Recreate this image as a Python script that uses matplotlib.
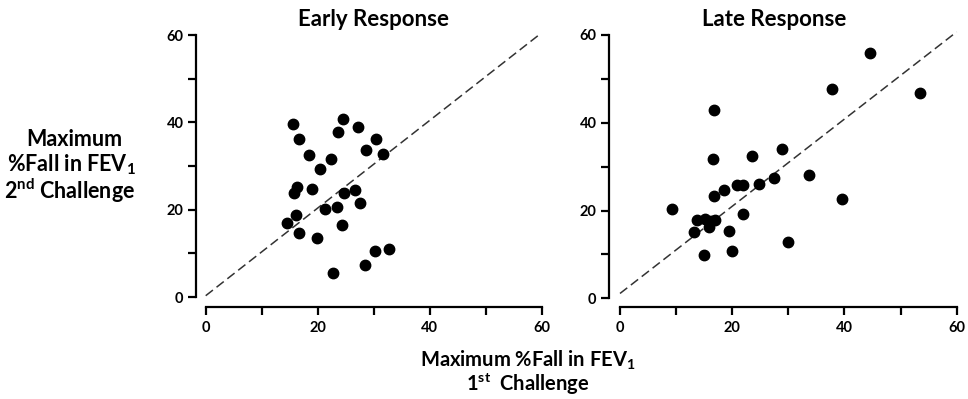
import matplotlib
matplotlib.use("Agg")
import matplotlib.pyplot as plt

# Early response: 1st challenge vs 2nd challenge (% fall in FEV1)
early_x = [15.6, 16.7, 18.5, 20.4, 22.3, 23.6, 24.5, 27.2, 30.5, 28.6, 31.6, 15.7, 16.3, 18.9,
           24.7, 26.6, 27.5, 23.5, 21.3, 16.1, 14.6, 16.7, 19.9, 24.3, 30.2, 32.7, 28.5, 22.8]
early_y = [39.7, 36.3, 32.6, 29.4, 31.6, 37.7, 40.8, 39.0, 36.1, 33.7, 32.7, 23.9, 25.1, 24.7,
           23.8, 24.4, 21.6, 20.7, 20.2, 18.8, 16.9, 14.6, 13.5, 16.5, 10.6, 11.0, 7.4, 5.5]

# Late response
late_x = [9.2, 13.7, 13.2, 15.2, 15.9, 16.3, 16.9, 14.9, 16.8, 16.5, 16.8, 18.6, 19.5, 20.0,
          20.9, 22.0, 21.9, 23.5, 24.7, 27.5, 28.9, 29.9, 33.6, 37.8, 39.6, 44.6, 53.5]
late_y = [20.4, 17.8, 15.0, 18.1, 16.2, 17.6, 17.8, 9.9, 43.0, 31.7, 23.3, 24.6, 15.3, 10.7,
          25.7, 25.7, 19.2, 32.5, 26.0, 27.3, 34.0, 12.8, 28.2, 47.7, 22.6, 56.0, 46.7]

# dashed reference lines (start, end)
early_line_x = [0, 59.5]
early_line_y = [0.3, 60]
late_line_x = [0, 60]
late_line_y = [1.1, 60.7]

ticks_major = [0, 20, 40, 60]
ticks_minor = [10, 30, 50]

plt.rcParams["font.family"] = ["Lato", "DejaVu Sans"]
plt.rcParams["font.weight"] = "bold"
plt.rcParams["mathtext.fontset"] = "custom"
plt.rcParams["mathtext.rm"] = "Lato:bold"
plt.rcParams["mathtext.it"] = "Lato:bold"
plt.rcParams["mathtext.bf"] = "Lato:bold"

fig = plt.figure(figsize=(9.68, 3.99), dpi=100)
ax1 = fig.add_axes([0.2125, 0.2556, 0.347, 0.6566])
ax2 = fig.add_axes([0.6405, 0.2524, 0.3478, 0.660])


def style_axes(ax, yout, xout):
    ax.set_xlim(0, 60)
    ax.set_ylim(0, 60)
    for s in ["top", "right"]:
        ax.spines[s].set_visible(False)
    ax.spines["left"].set_position(("outward", yout))
    ax.spines["bottom"].set_position(("outward", xout))
    ax.spines["left"].set_linewidth(1.6)
    ax.spines["bottom"].set_linewidth(1.6)
    ax.set_xticks(ticks_major + ticks_minor)
    ax.set_xticklabels([str(t) for t in ticks_major] + [""] * len(ticks_minor))
    ax.set_yticks(ticks_major + ticks_minor)
    ax.set_yticklabels([str(t) for t in ticks_major] + [""] * len(ticks_minor))
    ax.tick_params(width=1.6, length=5.5, labelsize=10.5)
    ax.tick_params(axis="x", pad=4.5)
    ax.tick_params(axis="y", pad=3.5)
    for lab in ax.get_xticklabels() + ax.get_yticklabels():
        lab.set_fontweight("bold")


for ax, xs, ys, lx, ly, yout, xout in [
    (ax1, early_x, early_y, early_line_x, early_line_y, 7, 7.5),
    (ax2, late_x, late_y, late_line_x, late_line_y, 8, 6.5),
]:
    ax.plot(lx, ly, linestyle=(0, (6, 3)), color="#333333", lw=1.1, clip_on=False)
    ax.plot(xs, ys, "o", color="black", ms=7.5, clip_on=False)
    style_axes(ax, yout, xout)

fig.text(373 / 968, 1 - 20 / 399, "Early Response", ha="center", va="center",
         fontsize=16, fontweight="bold")
fig.text(774 / 968, 1 - 20 / 399, "Late Response", ha="center", va="center",
         fontsize=16, fontweight="bold")

# y label, three separate lines
fig.text(74 / 968, 1 - 140 / 399, "Maximum", ha="center", va="center",
         fontsize=15.5, fontweight="bold")
fig.text(71 / 968, 1 - 165 / 399, "%Fall in FEV$_1$", ha="center", va="center",
         fontsize=15.5, fontweight="bold")
fig.text(70 / 968, 1 - 191 / 399, "2$^{\\mathrm{nd}}$ Challenge", ha="center", va="center",
         fontsize=15.5, fontweight="bold")

fig.text(528 / 968, 1 - 360 / 399, "Maximum %Fall in FEV$_1$", ha="center", va="center",
         fontsize=14.5, fontweight="bold")
fig.text(528 / 968, 1 - 384 / 399, "1$^{\\mathrm{st}}$  Challenge", ha="center", va="center",
         fontsize=14.5, fontweight="bold")

fig.savefig("out.png", dpi=100)
